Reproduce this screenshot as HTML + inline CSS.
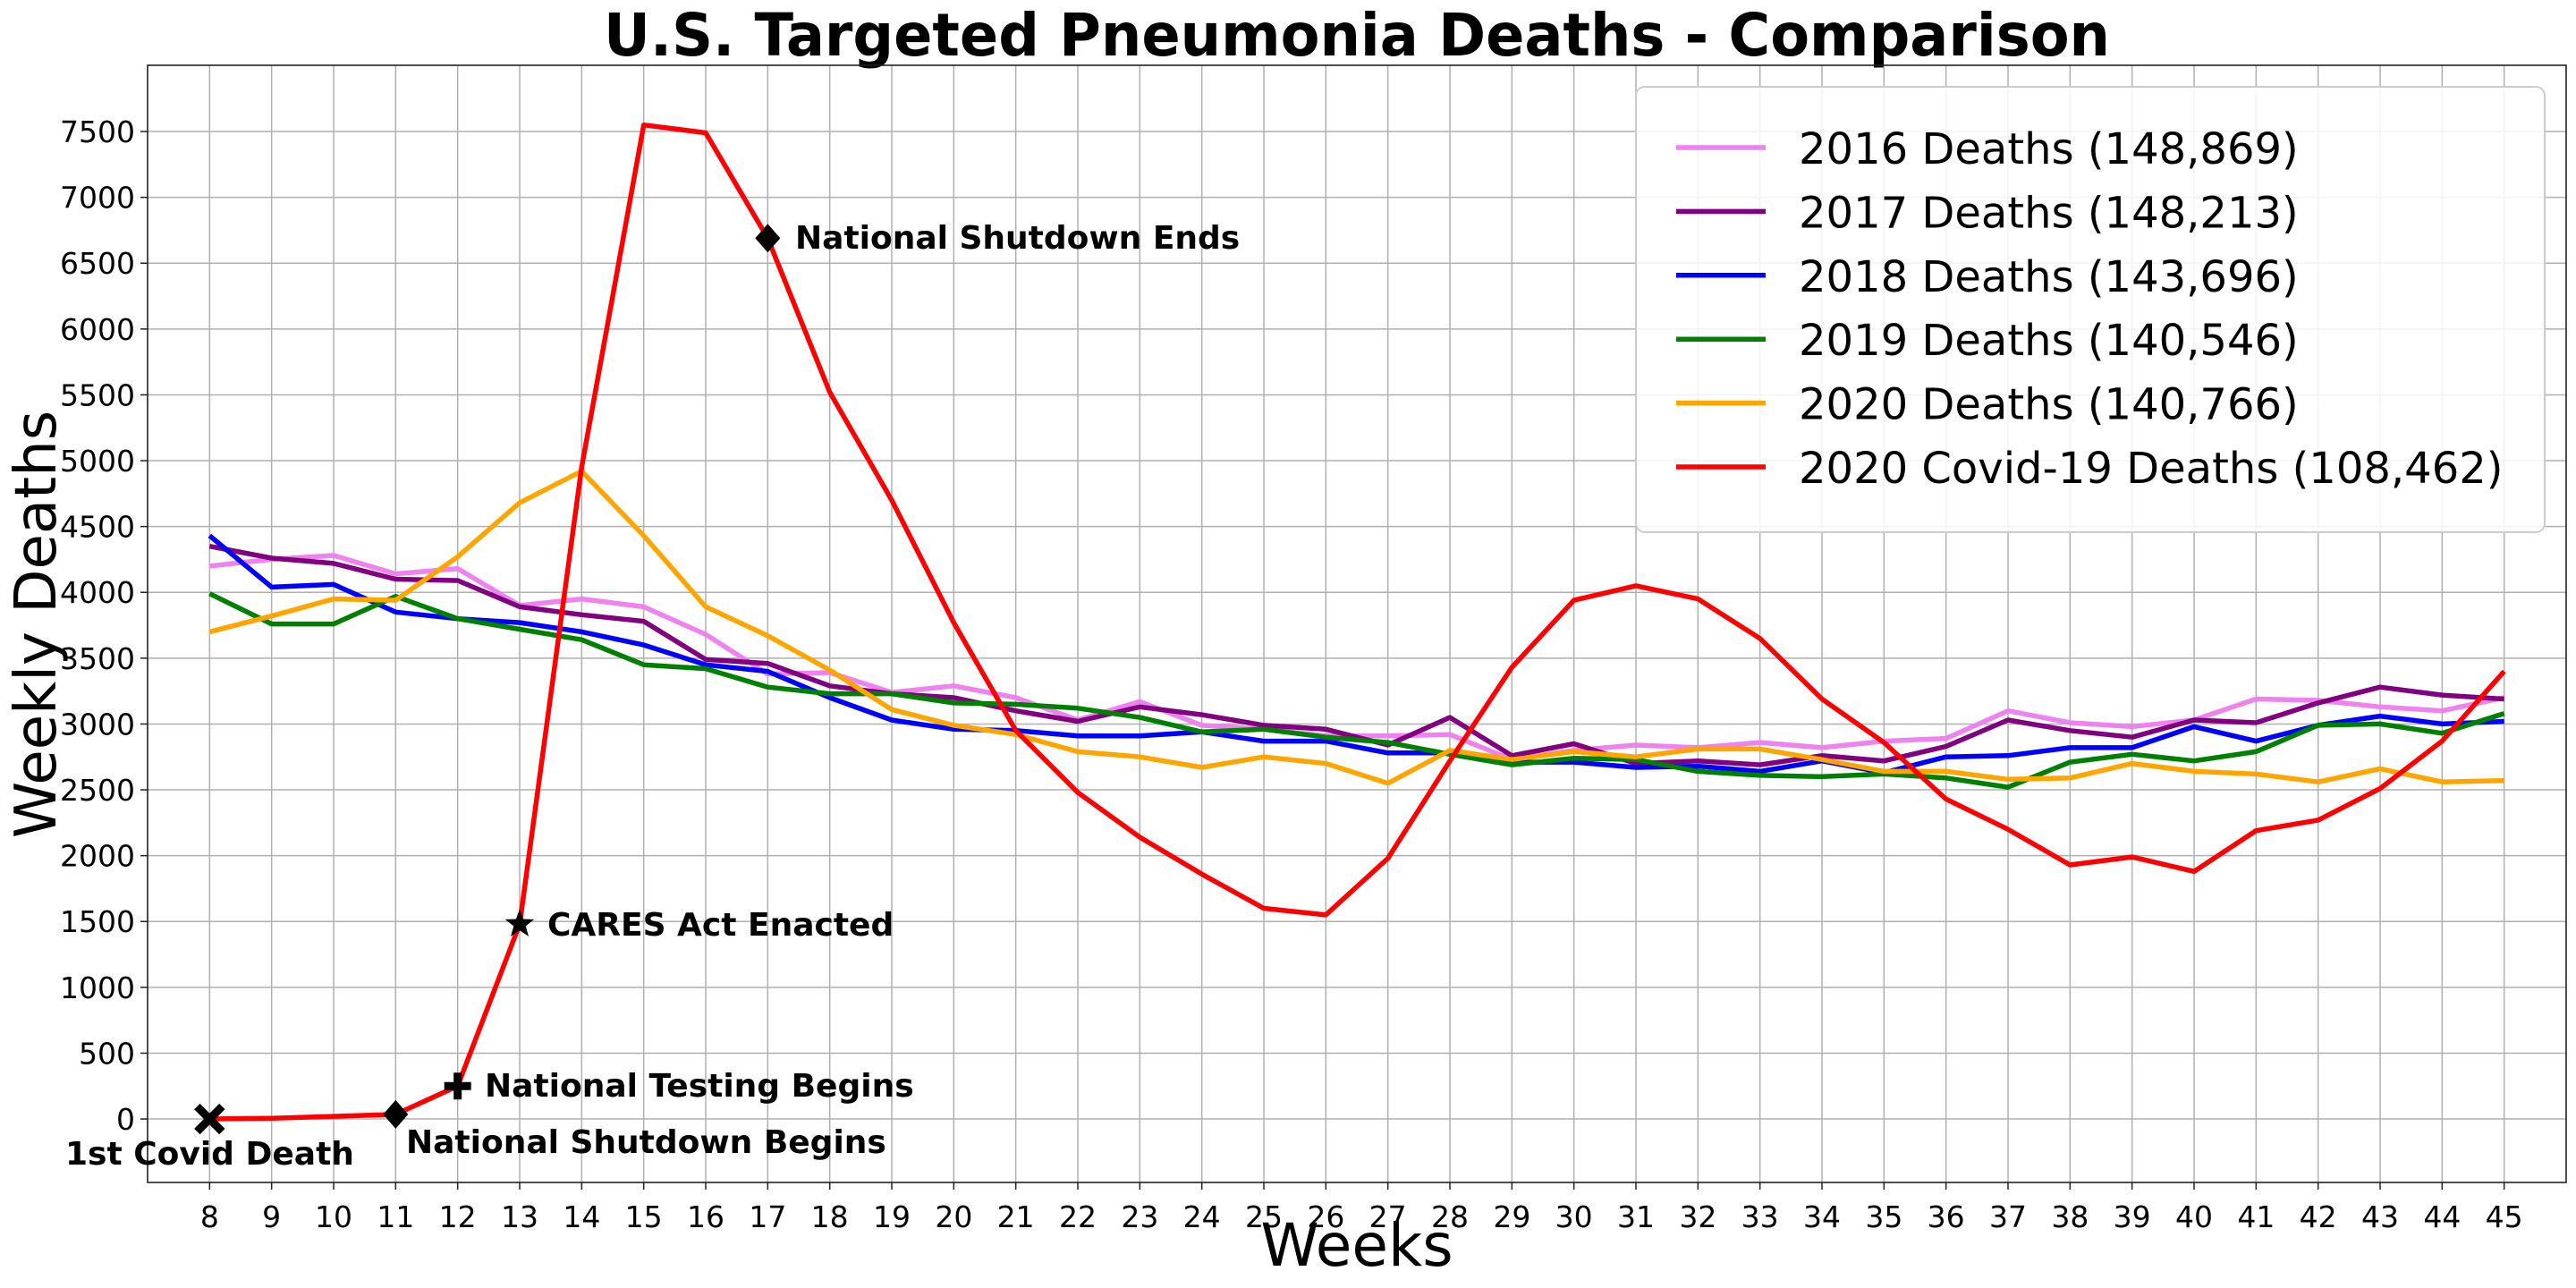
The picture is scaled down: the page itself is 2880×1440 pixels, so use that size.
<!DOCTYPE html>
<html><head><meta charset="utf-8"><style>
html,body{margin:0;padding:0;background:#fff;}
svg{display:block;font-family:"DejaVu Sans","Liberation Sans",sans-serif;}
</style></head><body>
<svg id="chart" width="2880" height="1440" viewBox="0 0 2880 1440" xmlns="http://www.w3.org/2000/svg">
<rect x="0" y="0" width="2880" height="1440" fill="#fff"/>
<text x="1517" y="62" font-size="66" font-weight="bold" text-anchor="middle" textLength="1684" lengthAdjust="spacingAndGlyphs">U.S. Targeted Pneumonia Deaths - Comparison</text>
<g id="grid"></g>
<g id="series"></g>
<g id="ticks"></g>
<rect x="165" y="73" width="2704" height="1249" fill="none" stroke="#222" stroke-width="1.6"/>
<text x="1517" y="1415" font-size="66" text-anchor="middle">Weeks</text>
<text x="0" y="0" font-size="64" text-anchor="middle" transform="translate(62,698) rotate(-90)">Weekly Deaths</text>
<g id="annots"></g>
<g id="legend"></g>
</svg>
<script>
const weeks = [8,9,10,11,12,13,14,15,16,17,18,19,20,21,22,23,24,25,26,27,28,29,30,31,32,33,34,35,36,37,38,39,40,41,42,43,44,45];
const yTicks = [0,500,1000,1500,2000,2500,3000,3500,4000,4500,5000,5500,6000,6500,7000,7500];
const d2016 = [4200,4250,4280,4140,4180,3900,3950,3890,3680,3380,3390,3240,3290,3200,3030,3170,2990,2960,2910,2910,2920,2730,2800,2840,2820,2860,2820,2870,2890,3100,3010,2980,3030,3190,3180,3130,3100,3200];
const d2017 = [4350,4260,4220,4100,4090,3890,3830,3780,3490,3460,3290,3230,3200,3100,3020,3130,3070,2990,2960,2840,3050,2760,2850,2700,2720,2690,2760,2720,2830,3030,2950,2900,3030,3010,3160,3280,3220,3190];
const d2018 = [4430,4040,4060,3850,3800,3770,3700,3600,3450,3400,3200,3030,2960,2950,2910,2910,2940,2870,2870,2780,2780,2710,2710,2670,2680,2640,2720,2630,2750,2760,2820,2820,2980,2870,2990,3060,3000,3020];
const d2019 = [3990,3760,3760,3970,3800,3720,3640,3450,3420,3280,3230,3230,3160,3150,3120,3050,2940,2960,2900,2860,2770,2690,2740,2730,2640,2610,2600,2620,2590,2520,2710,2770,2720,2790,2990,3000,2930,3080];
const d2020 = [3700,3820,3950,3940,4270,4680,4920,4430,3890,3670,3410,3110,2990,2920,2790,2750,2670,2750,2700,2550,2800,2730,2790,2750,2810,2810,2730,2640,2640,2580,2590,2700,2640,2620,2560,2660,2560,2570];
const dCovid = [0,5,20,35,250,1480,4950,7550,7490,6690,5520,4700,3770,2950,2480,2140,1860,1600,1550,1980,2720,3430,3940,4050,3950,3650,3190,2860,2430,2200,1930,1990,1880,2190,2270,2510,2870,3400];
const seriesLabels = ["2016 Deaths (148,869)","2017 Deaths (148,213)","2018 Deaths (143,696)","2019 Deaths (140,546)","2020 Deaths (140,766)","2020 Covid-19 Deaths (108,462)"];
const seriesColors = ["violet","purple","blue","green","orange","red"];
const eventWeeks = [8,11,12,13,17];
const eventLabels = ["1st Covid Death","National Shutdown Begins","National Testing Begins","CARES Act Enacted","National Shutdown Ends"];

const NS="http://www.w3.org/2000/svg";
const L=165,R=2869,T=73,B=1322,XMIN=7,XMAX=46,YMIN=-482,YMAX=8003;
function xs(w){return L+(w-XMIN)/(XMAX-XMIN)*(R-L);}
function ys(v){return B-(v-YMIN)/(YMAX-YMIN)*(B-T);}
function mk(tag,attrs,parent){const e=document.createElementNS(NS,tag);for(const k in attrs)e.setAttribute(k,attrs[k]);parent.appendChild(e);return e;}
const grid=document.getElementById('grid'),ticks=document.getElementById('ticks'),ser=document.getElementById('series'),ann=document.getElementById('annots'),leg=document.getElementById('legend');

weeks.forEach(w=>{
  const x=xs(w);
  const g=mk('line',{x1:x,x2:x,y1:T,y2:B,stroke:'#b0b0b0','stroke-width':1.5},grid);
  
  
  const t=mk('line',{x1:x,x2:x,y1:B,y2:B+8,stroke:'#222','stroke-width':1.5},ticks);
  
  
  const tl=mk('text',{x:x,y:B+50,'font-size':33,'text-anchor':'middle'},ticks);
  tl.textContent=w;
  
  
});
yTicks.forEach(v=>{
  const y=ys(v);
  const g=mk('line',{x1:L,x2:R,y1:y,y2:y,stroke:'#b0b0b0','stroke-width':1.5},grid);
  
  
  const t=mk('line',{x1:L-8,x2:L,y1:y,y2:y,stroke:'#222','stroke-width':1.5},ticks);
  
  
  const tl=mk('text',{x:L-14,y:y+12,'font-size':33,'text-anchor':'end'},ticks);
  tl.textContent=v;
  
  
});

const allData=[d2016,d2017,d2018,d2019,d2020,dCovid];
const serNames=['line-2016','line-2017','line-2018','line-2019','line-2020','line-covid-2020'];
allData.forEach((d,i)=>{
  const pts=d.map((v,j)=>xs(weeks[j]).toFixed(1)+','+ys(v).toFixed(1)).join(' ');
  const p=mk('polyline',{points:pts,fill:'none',stroke:seriesColors[i],'stroke-width':5.5,'stroke-linejoin':'round'},ser);
  
  
});

function covidAt(w){return dCovid[weeks.indexOf(w)];}
const markerTypes=['x','diamond','plus','star','diamond'];
const labelPos=[[73,1302,'start'],[454,1289,'start'],[542,1226,'start'],[612,1046,'start'],[889,278,'start']];
eventWeeks.forEach((w,i)=>{
  const cx=xs(w),cy=ys(covidAt(w));
  let m;
  const t=markerTypes[i];
  if(t==='x'){
    m=mk('path',{d:`M${cx-14},${cy-14}L${cx+14},${cy+14}M${cx+14},${cy-14}L${cx-14},${cy+14}`,stroke:'#000','stroke-width':9,fill:'none'},ann);
  }else if(t==='diamond'){
    m=mk('polygon',{points:`${cx},${cy-16} ${cx+14},${cy} ${cx},${cy+16} ${cx-14},${cy}`,fill:'#000'},ann);
  }else if(t==='plus'){
    m=mk('path',{d:`M${cx-15},${cy}L${cx+15},${cy}M${cx},${cy-15}L${cx},${cy+15}`,stroke:'#000','stroke-width':9,fill:'none'},ann);
  }else{
    let s='';for(let k=0;k<10;k++){const r=k%2?7:17;const a=-Math.PI/2+k*Math.PI/5;s+=(cx+r*Math.cos(a)).toFixed(1)+','+(cy+r*Math.sin(a)).toFixed(1)+' ';}
    m=mk('polygon',{points:s,fill:'#000'},ann);
  }
  
  
  const lp=labelPos[i];
  const tx=mk('text',{x:lp[0],y:lp[1],'font-size':36,'font-weight':'bold','text-anchor':lp[2]},ann);
  tx.textContent=eventLabels[i];
  
  
});

const lb=mk('rect',{x:1829,y:97,width:1016,height:498,rx:10,fill:'#fff','fill-opacity':0.85,stroke:'#ccc','stroke-width':2},leg);


seriesLabels.forEach((s,i)=>{
  const y=165+i*71.4;
  const ln=mk('line',{x1:1874,x2:1974,y1:y,y2:y,stroke:seriesColors[i],'stroke-width':5.5},leg);
  
  
  const tx=mk('text',{x:2011,y:y+18,'font-size':48},leg);
  tx.textContent=s;
  
  
});
</script>
</body></html>
